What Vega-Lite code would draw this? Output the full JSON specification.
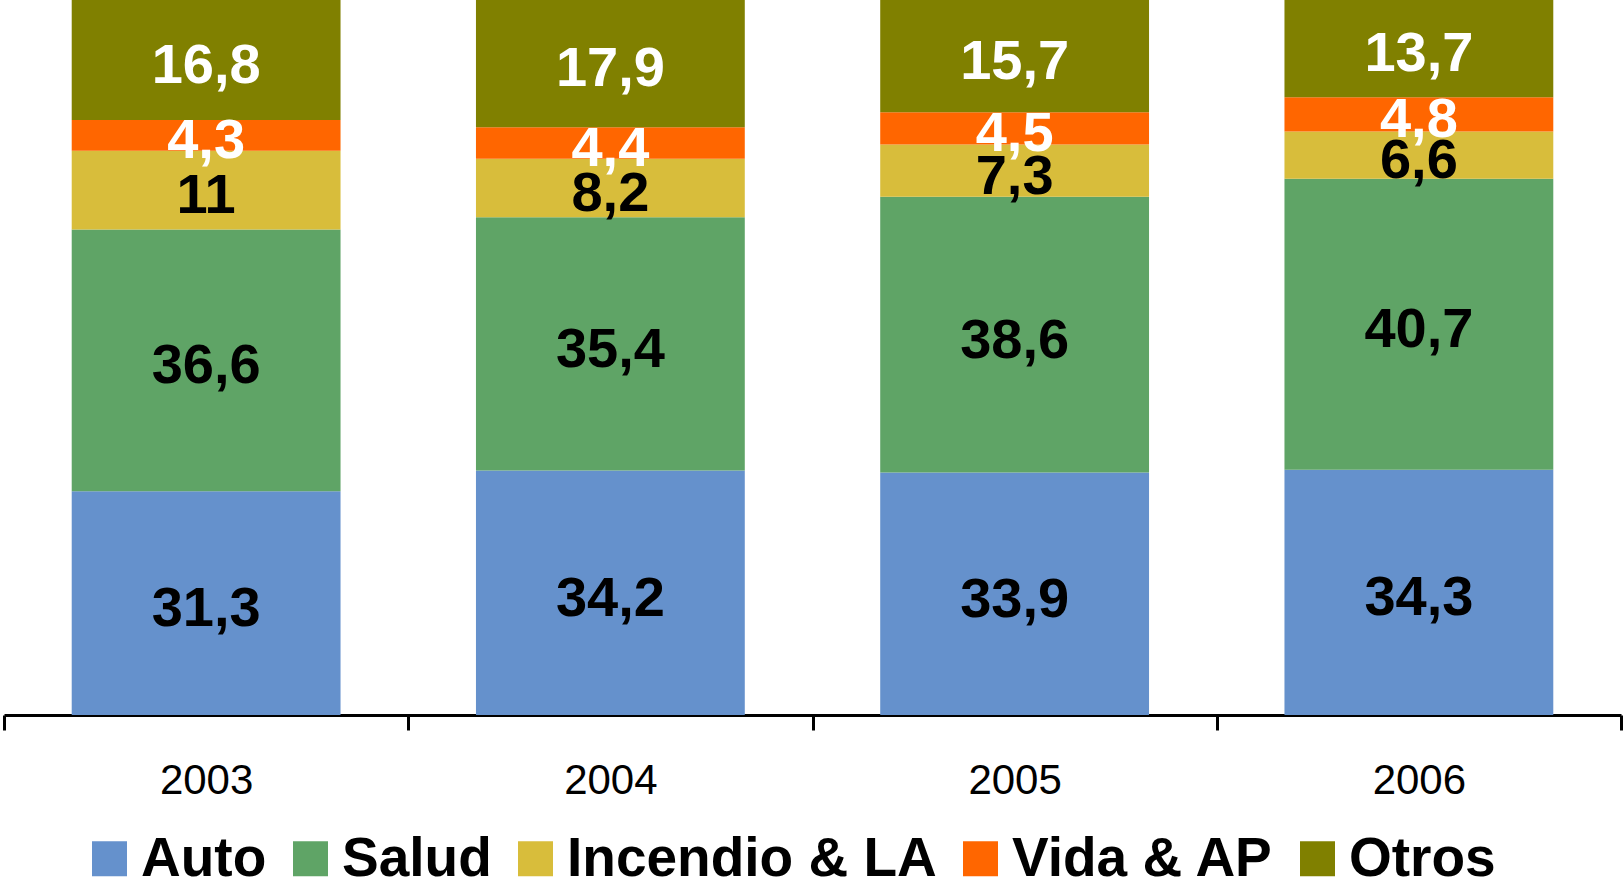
{
  "$schema": "https://vega.github.io/schema/vega-lite/v6.json",
  "autosize": {"type": "none"},
  "width": 1617,
  "height": 715,
  "padding": {"left": 4, "top": 0, "right": 2, "bottom": 168},
  "background": "white",
  "config": {
    "view": {"stroke": null},
    "locale": {"number": {"decimal": ",", "thousands": ".", "grouping": [3], "currency": ["", " €"]}},
    "font": "Liberation Sans"
  },
  "data": {
    "values": [
      {"year": "2003", "s": "Auto", "k": 1, "v": 31.3},
      {"year": "2003", "s": "Salud", "k": 2, "v": 36.6},
      {"year": "2003", "s": "Incendio & LA", "k": 3, "v": 11.0},
      {"year": "2003", "s": "Vida & AP", "k": 4, "v": 4.3},
      {"year": "2003", "s": "Otros", "k": 5, "v": 16.8},
      {"year": "2004", "s": "Auto", "k": 1, "v": 34.2},
      {"year": "2004", "s": "Salud", "k": 2, "v": 35.4},
      {"year": "2004", "s": "Incendio & LA", "k": 3, "v": 8.2},
      {"year": "2004", "s": "Vida & AP", "k": 4, "v": 4.4},
      {"year": "2004", "s": "Otros", "k": 5, "v": 17.9},
      {"year": "2005", "s": "Auto", "k": 1, "v": 33.9},
      {"year": "2005", "s": "Salud", "k": 2, "v": 38.6},
      {"year": "2005", "s": "Incendio & LA", "k": 3, "v": 7.3},
      {"year": "2005", "s": "Vida & AP", "k": 4, "v": 4.5},
      {"year": "2005", "s": "Otros", "k": 5, "v": 15.7},
      {"year": "2006", "s": "Auto", "k": 1, "v": 34.3},
      {"year": "2006", "s": "Salud", "k": 2, "v": 40.7},
      {"year": "2006", "s": "Incendio & LA", "k": 3, "v": 6.6},
      {"year": "2006", "s": "Vida & AP", "k": 4, "v": 4.8},
      {"year": "2006", "s": "Otros", "k": 5, "v": 13.7}
    ]
  },
  "encoding": {
    "x": {
      "field": "year", "type": "nominal",
      "scale": {"paddingInner": 0, "paddingOuter": 0},
      "axis": {
        "title": null, "labelAngle": 0, "tickBand": "extent",
        "domainColor": "black", "domainWidth": 3, "tickColor": "black", "tickWidth": 3, "tickSize": 15,
        "labelFontSize": 42, "labelColor": "black", "labelFont": "Liberation Sans", "labelPadding": 30
      }
    },
    "y": {
      "field": "v", "type": "quantitative", "stack": "zero",
      "scale": {"domain": [0, 100], "nice": false},
      "axis": null
    },
    "order": {"field": "k", "type": "quantitative"}
  },
  "layer": [
    {
      "mark": {"type": "bar", "width": {"band": 0.665}},
      "encoding": {
        "color": {
          "field": "s", "type": "nominal",
          "scale": {
            "domain": ["Auto", "Salud", "Incendio & LA", "Vida & AP", "Otros"],
            "range": ["#6591CC", "#5FA466", "#D8BD3B", "#FF6600", "#808000"]
          },
          "legend": {
            "title": null, "orient": "none", "direction": "horizontal",
            "legendX": 78, "legendY": 831,
            "symbolType": "square", "symbolSize": 1225, "symbolStrokeWidth": 0,
            "labelFontSize": 55, "labelFontWeight": "bold", "labelColor": "black", "labelFont": "Liberation Sans",
            "labelOffset": 4, "columnPadding": 16, "labelLimit": 600
          }
        }
      }
    },
    {
      "mark": {"type": "text", "fontSize": 56, "fontWeight": "bold", "font": "Liberation Sans", "baseline": "middle", "dy": 6},
      "encoding": {
        "y": {"field": "v", "type": "quantitative", "stack": "zero", "bandPosition": 0.5},
        "text": {"field": "v", "type": "quantitative", "format": ".1~f"},
        "color": {
          "condition": {"test": "datum.s === 'Otros' || datum.s === 'Vida & AP'", "value": "white"},
          "value": "black"
        }
      }
    }
  ]
}
